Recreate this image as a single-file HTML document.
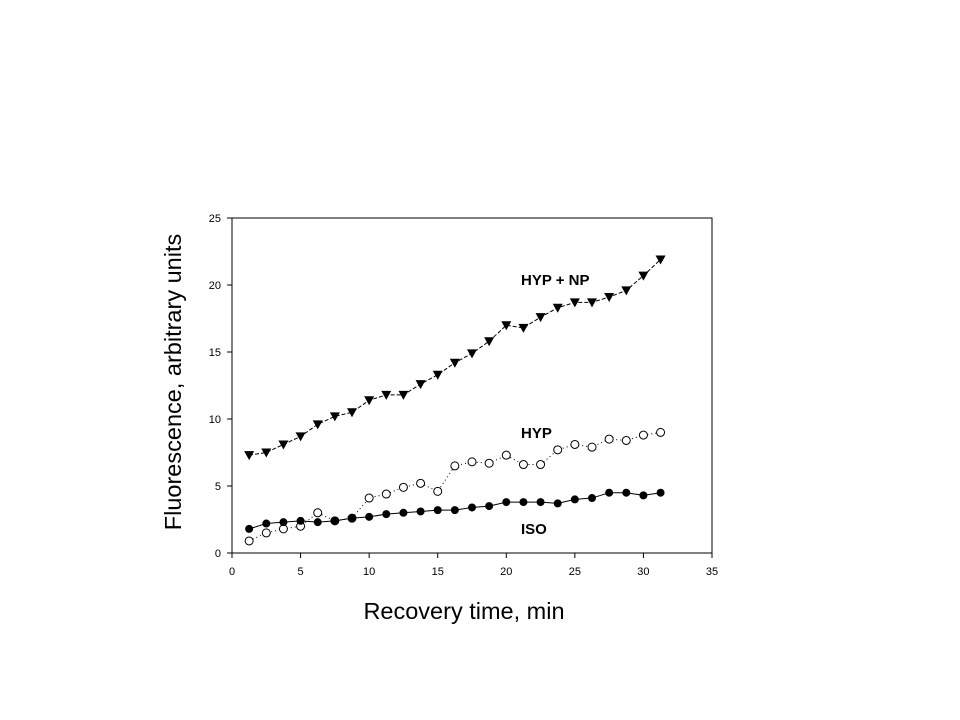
<!DOCTYPE html>
<html><head><meta charset="utf-8"><style>
html,body{margin:0;padding:0;background:#fff;width:960px;height:720px;overflow:hidden}
svg{display:block;font-family:"Liberation Sans",Arial,sans-serif}
</style></head><body>
<svg id="chart" width="960" height="720">
<text x="464" y="619" font-size="23.5" text-anchor="middle">Recovery time, min</text>
<text transform="translate(181,382) rotate(-90)" font-size="23.5" text-anchor="middle">Fluorescence, arbitrary units</text>
<text x="521" y="285" font-size="15" font-weight="bold">HYP + NP</text>
<text x="521" y="438" font-size="15" font-weight="bold">HYP</text>
<text x="521" y="534" font-size="15" font-weight="bold">ISO</text>
</svg>
<script>
const xTicks=[0,5,10,15,20,25,30,35];
const yTicks=[0,5,10,15,20,25];
const times=[1.25,2.5,3.75,5,6.25,7.5,8.75,10,11.25,12.5,13.75,15,16.25,17.5,18.75,20,21.25,22.5,23.75,25,26.25,27.5,28.75,30,31.25];
const hypNp=[7.3,7.5,8.1,8.7,9.6,10.2,10.5,11.4,11.8,11.8,12.6,13.3,14.2,14.9,15.8,17.0,16.8,17.6,18.3,18.7,18.7,19.1,19.6,20.7,21.9];
const hyp=[0.9,1.5,1.8,2.0,3.0,2.4,2.6,4.1,4.4,4.9,5.2,4.6,6.5,6.8,6.7,7.3,6.6,6.6,7.7,8.1,7.9,8.5,8.4,8.8,9.0];
const iso=[1.8,2.2,2.3,2.4,2.3,2.4,2.6,2.7,2.9,3.0,3.1,3.2,3.2,3.4,3.5,3.8,3.8,3.8,3.7,4.0,4.1,4.5,4.5,4.3,4.5];
const NS="http://www.w3.org/2000/svg";
const svg=document.getElementById('chart');
const X0=232,X1=712,Y0=553,Y1=218;
const sx=v=>X0+(v-0)/35*(X1-X0);
const sy=v=>Y0-(v-0)/25*(Y0-Y1);
function mk(t,a){const e=document.createElementNS(NS,t);for(const k in a)e.setAttribute(k,a[k]);svg.appendChild(e);return e;}
const frame=mk('rect',{x:X0,y:Y1,width:X1-X0,height:Y0-Y1,fill:'none',stroke:'#000','stroke-width':1});


xTicks.forEach(v=>{
 const l=mk('line',{x1:sx(v),x2:sx(v),y1:Y0,y2:Y0+5,stroke:'#000'});
 
 
 const t=mk('text',{x:sx(v),y:Y0+22,'font-size':11,'text-anchor':'middle'});t.textContent=v;
 
 
});
yTicks.forEach(v=>{
 const l=mk('line',{x1:X0-5,x2:X0,y1:sy(v),y2:sy(v),stroke:'#000'});
 
 
 const t=mk('text',{x:X0-11,y:sy(v)+4,'font-size':11,'text-anchor':'end'});t.textContent=v;
 
 
});
function series(vals,name,dash,marker){
 const pts=vals.map((v,i)=>sx(times[i])+','+sy(v)).join(' ');
 const p=mk('polyline',{points:pts,fill:'none',stroke:'#000','stroke-width':1,'stroke-dasharray':dash});
 
 
 vals.forEach((v,i)=>{
  const x=sx(times[i]),y=sy(v);let m;
  if(marker==='tri')m=mk('polygon',{points:`${x-5},${y-4} ${x+5},${y-4} ${x},${y+5}`,fill:'#000'});
  else if(marker==='open')m=mk('circle',{cx:x,cy:y,r:4,fill:'#fff',stroke:'#000'});
  else m=mk('circle',{cx:x,cy:y,r:4,fill:'#000'});
  
  
 });
}
series(hypNp,'hyp-np','4,2','tri');
series(hyp,'hyp','1,3','open');
series(iso,'iso','none','filled');
</script>
</body></html>
